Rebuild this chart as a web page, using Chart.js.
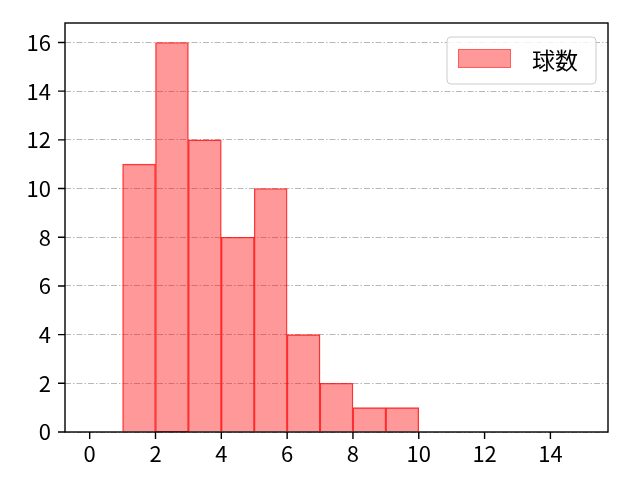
<!DOCTYPE html>
<html lang="ja">
<head>
  <meta charset="UTF-8">
  <title>球数</title>
  <script src="https://cdn.jsdelivr.net/npm/chart.js"></script>
  <style>
    html, body { margin: 0; padding: 0; background: #ffffff; }
    #wrap { width: 640px; height: 480px; }
  </style>
</head>
<body>
  <div id="wrap"><canvas id="histChart" width="640" height="480"></canvas></div>

  <script>
    // ヒストグラムのデータ（ビン幅 1）
    const binStarts = [1, 2, 3, 4, 5, 6, 7, 8, 9];
    const binCounts = [11, 16, 12, 8, 10, 4, 2, 1, 1];
    const xTicks = [0, 2, 4, 6, 8, 10, 12, 14];
    const yTicks = [0, 2, 4, 6, 8, 10, 12, 14, 16];
    const seriesName = '球数';

    const FONT = '"Noto Sans CJK JP", "DejaVu Sans", sans-serif';
    const TICK_LEN = 7;

    // 枠線・目盛り線・凡例
    const framePlugin = {
      id: 'frame',
      afterDraw(chart) {
        const { ctx, chartArea: a, scales } = chart;
        ctx.save();
        ctx.strokeStyle = '#000000';
        ctx.lineWidth = 1.4;
        ctx.strokeRect(a.left, a.top, a.right - a.left, a.bottom - a.top);

        // 目盛り（外向き）
        ctx.beginPath();
        xTicks.forEach(v => {
          const px = scales.x.getPixelForValue(v);
          ctx.moveTo(px, a.bottom);
          ctx.lineTo(px, a.bottom + TICK_LEN);
        });
        yTicks.forEach(v => {
          const py = scales.y.getPixelForValue(v);
          ctx.moveTo(a.left, py);
          ctx.lineTo(a.left - TICK_LEN, py);
        });
        ctx.stroke();

        // 凡例
        const bx = 447, by = 37, bw = 149, bh = 47, r = 4;
        ctx.beginPath();
        ctx.moveTo(bx + r, by);
        ctx.arcTo(bx + bw, by, bx + bw, by + bh, r);
        ctx.arcTo(bx + bw, by + bh, bx, by + bh, r);
        ctx.arcTo(bx, by + bh, bx, by, r);
        ctx.arcTo(bx, by, bx + bw, by, r);
        ctx.closePath();
        ctx.fillStyle = 'rgba(255,255,255,0.8)';
        ctx.fill();
        ctx.strokeStyle = '#cccccc';
        ctx.lineWidth = 1;
        ctx.stroke();

        ctx.fillStyle = 'rgba(255,0,0,0.4)';
        ctx.fillRect(458, 49, 53, 19);
        ctx.strokeStyle = 'rgba(255,0,0,0.4)';
        ctx.strokeRect(458.5, 49.5, 52, 18);

        ctx.fillStyle = '#000000';
        ctx.font = '23px ' + FONT;
        ctx.textBaseline = 'middle';
        ctx.textAlign = 'left';
        ctx.fillText(seriesName, 532, 60);
        ctx.restore();
      }
    };

    const ctx = document.getElementById('histChart').getContext('2d');
    new Chart(ctx, {
      type: 'bar',
      data: {
        datasets: [{
          label: seriesName,
          data: binStarts.map((s, i) => ({ x: s + 0.5, y: binCounts[i] })),
          backgroundColor: 'rgba(255, 0, 0, 0.4)',
          borderColor: 'rgba(255, 0, 0, 0.75)',
          borderWidth: 0.7,
          barPercentage: 1.0,
          categoryPercentage: 1.0
        }]
      },
      options: {
        responsive: false,
        animation: false,
        devicePixelRatio: 1,
        layout: { padding: { left: 0, right: 32, top: 23, bottom: 0 } },
        plugins: {
          legend: { display: false },
          tooltip: { enabled: false }
        },
        scales: {
          x: {
            type: 'linear',
            min: -0.75,
            max: 15.75,
            offset: false,
            afterBuildTicks(scale) { scale.ticks = xTicks.map(v => ({ value: v })); },
            afterFit(scale) { scale.height = 48; },
            grid: {
              display: true,
              offset: false,
              drawOnChartArea: false,
              drawTicks: true,
              tickLength: TICK_LEN,
              tickColor: 'rgba(0,0,0,0)'
            },
            border: { display: false },
            ticks: {
              color: '#000000',
              font: { size: 22, family: FONT },
              padding: 1,
              maxRotation: 0
            }
          },
          y: {
            min: 0,
            max: 16.8,
            afterBuildTicks(scale) { scale.ticks = yTicks.map(v => ({ value: v })); },
            afterFit(scale) { scale.width = 65; },
            grid: {
              color: '#b0b0b0',
              lineWidth: 0.9,
              drawTicks: true,
              tickLength: TICK_LEN,
              tickColor: 'rgba(0,0,0,0)'
            },
            border: { display: false, dash: [6, 2, 1.5, 2] },
            ticks: {
              color: '#000000',
              font: { size: 22, family: FONT },
              padding: 7
            }
          }
        }
      },
      plugins: [framePlugin]
    });
  </script>
</body>
</html>
